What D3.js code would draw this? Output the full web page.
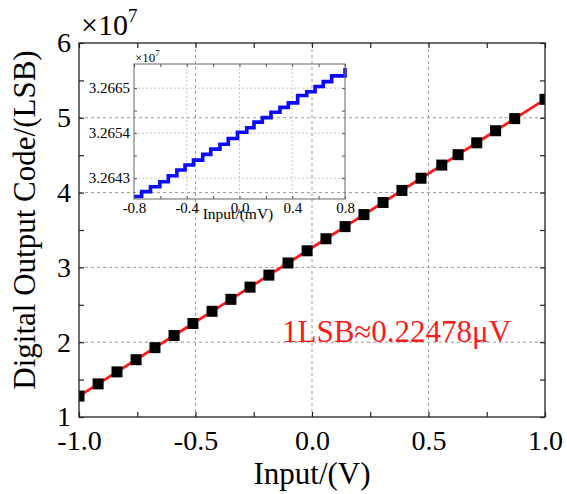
<!DOCTYPE html>
<html>
<head>
  <meta charset="utf-8">
  <script src="https://cdn.jsdelivr.net/npm/d3@7"></script>
  <style>
    body { margin: 0; background: #fff; }
    svg, svg text { font-family: "Liberation Serif", "Times New Roman", serif; }
    .grid { stroke: #9a9a9a; stroke-width: 1; stroke-dasharray: 3, 3; fill: none; }
    .igrid { stroke: #c8c8c8; stroke-width: 1; stroke-dasharray: 2, 2; fill: none; }
    .axis path { display: none; }
  </style>
</head>
<body>
  <div id="chart"></div>
  <script>
    // main plot: input (V) vs output code (x1e7)
    const inputV = [-1.0, -0.918, -0.837, -0.755, -0.674, -0.592, -0.511, -0.429, -0.348,
      -0.266, -0.185, -0.103, -0.021, 0.060, 0.142, 0.223, 0.305, 0.386, 0.468, 0.557,
      0.627, 0.707, 0.788, 0.870, 1.0];
    const outputCode = [1.280, 1.443, 1.603, 1.766, 1.927, 2.089, 2.250, 2.413, 2.573,
      2.736, 2.897, 3.059, 3.222, 3.383, 3.545, 3.706, 3.868, 4.029, 4.192, 4.368,
      4.507, 4.666, 4.827, 4.989, 5.247];

    // inset: staircase, input (mV) vs code (x1e7)
    const insetInput = [-0.8, -0.742, -0.675, -0.604, -0.540, -0.475, -0.413, -0.349, -0.279,
      -0.218, -0.148, -0.085, -0.015, 0.055, 0.110, 0.173, 0.239, 0.307, 0.370, 0.441,
      0.510, 0.573, 0.635, 0.699, 0.8];
    const insetCode = [3.26385, 3.26397, 3.26409, 3.26421, 3.26436, 3.26450, 3.26462, 3.26474,
      3.26488, 3.26501, 3.26513, 3.26527, 3.26542, 3.26553, 3.26567, 3.26578, 3.26591,
      3.26603, 3.26614, 3.26632, 3.26641, 3.26654, 3.26666, 3.26680, 3.26699];

    const xTicks = [-1.0, -0.5, 0.0, 0.5, 1.0];
    const xTickLabels = ["-1.0", "-0.5", "0.0", "0.5", "1.0"];
    const yTicks = [1, 2, 3, 4, 5, 6];
    const yTickLabels = ["1", "2", "3", "4", "5", "6"];
    const insetXTicks = [-0.8, -0.4, 0.0, 0.4, 0.8];
    const insetXTickLabels = ["-0.8", "-0.4", "0.0", "0.4", "0.8"];
    const insetYTicks = [3.2643, 3.2654, 3.2665];
    const insetYTickLabels = ["3.2643", "3.2654", "3.2665"];

    const width = 567, height = 494;
    const serif = "'Liberation Serif', 'Times New Roman', serif";
    const svg = d3.select("#chart").append("svg")
      .attr("width", width).attr("height", height);

    const x = d3.scaleLinear().domain([-1, 1]).range([79, 545]);
    const y = d3.scaleLinear().domain([1, 6]).range([417, 43]);

    // grid
    svg.append("g").selectAll("line").data(xTicks.slice(1, -1)).join("line")
      .attr("class", "grid")
      .attr("x1", d => x(d)).attr("x2", d => x(d)).attr("y1", 43).attr("y2", 417);
    svg.append("g").selectAll("line").data(yTicks.slice(1, -1)).join("line")
      .attr("class", "grid")
      .attr("y1", d => y(d)).attr("y2", d => y(d)).attr("x1", 79).attr("x2", 545);

    // ticks (inward, all sides)
    const xMinor = [-0.75, -0.25, 0.25, 0.75];
    const yMinor = [1.5, 2.5, 3.5, 4.5, 5.5];
    const allX = xTicks.concat(xMinor), allY = yTicks.concat(yMinor);

    const styleTicks = size => g => g.selectAll("text")
      .style("font-family", serif).style("font-size", size + "px").attr("fill", "#000");

    svg.append("g").attr("class", "axis").attr("transform", "translate(0,417)")
      .call(d3.axisBottom(x).tickValues(allX).tickSize(-5).tickPadding(13)
        .tickFormat(d => { const i = xTicks.indexOf(d); return i < 0 ? "" : xTickLabels[i]; }))
      .call(styleTicks(28));
    svg.append("g").attr("class", "axis").attr("transform", "translate(0,43)")
      .call(d3.axisTop(x).tickValues(allX).tickSize(-5).tickFormat(""));
    svg.append("g").attr("class", "axis").attr("transform", "translate(79,0)")
      .call(d3.axisLeft(y).tickValues(allY).tickSize(-5).tickPadding(8)
        .tickFormat(d => { const i = yTicks.indexOf(d); return i < 0 ? "" : yTickLabels[i]; }))
      .call(styleTicks(28));
    svg.append("g").attr("class", "axis").attr("transform", "translate(545,0)")
      .call(d3.axisRight(y).tickValues(allY).tickSize(-5).tickFormat(""));
    svg.selectAll(".axis line").attr("stroke", "#222").attr("stroke-width", 1.2);

    // series, clipped to plot area
    svg.append("clipPath").attr("id", "clip")
      .append("rect").attr("x", 79).attr("y", 43).attr("width", 466).attr("height", 374);
    const plot = svg.append("g").attr("clip-path", "url(#clip)");

    const pts = inputV.map((v, i) => [v, outputCode[i]]);
    plot.append("path").datum(pts)
      .attr("fill", "none").attr("stroke", "#ff1a1a").attr("stroke-width", 2.8)
      .attr("d", d3.line().x(d => x(d[0])).y(d => y(d[1])));
    plot.selectAll("rect.pt").data(pts).join("rect").attr("class", "pt")
      .attr("x", d => x(d[0]) - 5.5).attr("y", d => y(d[1]) - 5.5)
      .attr("width", 11).attr("height", 11).attr("fill", "#000");

    // frame
    svg.append("rect").attr("x", 79).attr("y", 43).attr("width", 466).attr("height", 374)
      .attr("fill", "none").attr("stroke", "#222").attr("stroke-width", 1.3);

    // x10^7
    svg.append("text").attr("x", 81).attr("y", 35).attr("font-size", 30)
      .text("×10").append("tspan").attr("dy", -13).attr("font-size", 19).text("7");

    // axis titles
    svg.append("text").attr("x", 312).attr("y", 484).attr("text-anchor", "middle")
      .attr("font-size", 31).text("Input/(V)");
    svg.append("text").attr("transform", "translate(35,220) rotate(-90)")
      .attr("text-anchor", "middle").attr("font-size", 31).text("Digital Output Code/(LSB)");

    // annotation
    svg.append("text").attr("x", 282).attr("y", 342).attr("font-size", 31)
      .attr("fill", "#ff1a1a").text("1LSB≈0.22478μV");

    // ---- inset ----
    const ix = d3.scaleLinear().domain([-0.8, 0.8]).range([134, 345]);
    const iy = d3.scaleLinear().domain([3.26379, 3.26709]).range([199, 64]);
    const inset = svg.append("g");

    inset.append("g").selectAll("line").data(insetXTicks.slice(1, -1)).join("line")
      .attr("class", "igrid")
      .attr("x1", d => ix(d)).attr("x2", d => ix(d)).attr("y1", 64).attr("y2", 199);
    inset.append("g").selectAll("line").data(insetYTicks).join("line")
      .attr("class", "igrid")
      .attr("y1", d => iy(d)).attr("y2", d => iy(d)).attr("x1", 134).attr("x2", 345);

    const ixMinor = [-0.6, -0.2, 0.2, 0.6];
    const iyMinor = [3.26485, 3.26595];
    const allIX = insetXTicks.concat(ixMinor), allIY = insetYTicks.concat(iyMinor);

    inset.append("g").attr("class", "axis").attr("transform", "translate(0,199)")
      .call(d3.axisBottom(ix).tickValues(allIX).tickSize(-3).tickPadding(3.5)
        .tickFormat(d => { const i = insetXTicks.indexOf(d); return i < 0 ? "" : insetXTickLabels[i]; }))
      .call(styleTicks(15));
    inset.append("g").attr("class", "axis").attr("transform", "translate(0,64)")
      .call(d3.axisTop(ix).tickValues(allIX).tickSize(-3).tickFormat(""));
    inset.append("g").attr("class", "axis").attr("transform", "translate(134,0)")
      .call(d3.axisLeft(iy).tickValues(allIY).tickSize(-3).tickPadding(4)
        .tickFormat(d => { const i = insetYTicks.indexOf(d); return i < 0 ? "" : insetYTickLabels[i]; }))
      .call(styleTicks(15));
    inset.append("g").attr("class", "axis").attr("transform", "translate(345,0)")
      .call(d3.axisRight(iy).tickValues(allIY).tickSize(-3).tickFormat(""));
    inset.selectAll(".axis line").attr("stroke", "#555").attr("stroke-width", 1);

    const stair = insetInput.map((v, i) => [v, insetCode[i]]);
    inset.append("path").datum(stair)
      .attr("fill", "none").attr("stroke", "#0a0aff").attr("stroke-width", 3.6)
      .attr("d", d3.line().curve(d3.curveStepAfter).x(d => ix(d[0])).y(d => iy(d[1])));

    inset.append("rect").attr("x", 134).attr("y", 64).attr("width", 211).attr("height", 135)
      .attr("fill", "none").attr("stroke", "#666").attr("stroke-width", 1);

    inset.append("text").attr("x", 135).attr("y", 62).attr("font-size", 13)
      .text("×10").append("tspan").attr("dy", -6).attr("font-size", 9).text("7");
    inset.append("text").attr("x", 238).attr("y", 219).attr("text-anchor", "middle")
      .attr("font-size", 15.5).text("Input/(mV)");
  </script>
</body>
</html>
